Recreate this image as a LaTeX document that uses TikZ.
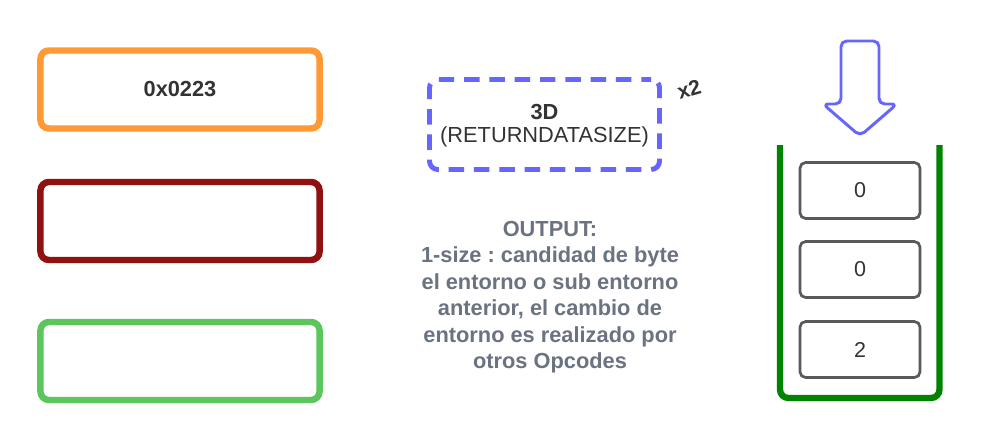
\documentclass[tikz,border=0pt]{standalone}
\usepackage{fontspec}
\setmainfont{Liberation Sans}
\frenchspacing
\definecolor{corange}{RGB}{255,153,51}
\definecolor{cdred}{RGB}{145,17,17}
\definecolor{clgreen}{RGB}{92,198,92}
\definecolor{cblue}{RGB}{102,102,255}
\definecolor{cgreen}{RGB}{0,132,0}
\definecolor{cboxgray}{RGB}{89,89,89}
\definecolor{ctext}{RGB}{51,51,51}
\definecolor{cout}{RGB}{107,114,128}
\tikzset{
  bigbox/.style={draw, rectangle, rounded corners=6pt, line width=4.6pt,
    minimum width=6.975cm, minimum height=1.95cm, inner sep=0pt},
  opbox/.style={draw=cblue, rectangle, rounded corners=6pt, line width=3.5pt,
    dash pattern=on 11pt off 7pt, dash phase=4pt,
    minimum width=5.75cm, minimum height=2.25cm, inner sep=0pt},
  stackbox/.style={draw=cboxgray, rectangle, rounded corners=4pt, line width=1.9pt,
    minimum width=3cm, minimum height=1.4cm, inner sep=0pt,
    font=\fontsize{15.3pt}{18pt}\selectfont, text=ctext},
  lbl/.style={inner sep=0pt, text=ctext, font=\fontsize{15.5pt}{18pt}\selectfont},
}
\begin{document}
\begin{tikzpicture}[x=0.025cm,y=-0.025cm]
\useasboundingbox[fill=white] (0,0) rectangle (1000,440);
% left boxes
\node[bigbox, draw=corange, font=\bfseries\fontsize{15.5pt}{18pt}\selectfont, text=ctext] (b1) at (180,89.5) {0x0223};
\node[bigbox, draw=cdred] (b2) at (180,221) {};
\node[bigbox, draw=clgreen] (b3) at (180,361) {};
% opcode box
\node[opbox] (op) at (544.5,124.5) {};
\node[lbl, font=\bfseries\fontsize{15.5pt}{18pt}\selectfont] (opn) at (544.5,112) {3D};
\node[lbl] (opname) at (544.5,137) {(RETURNDATASIZE)};
\node[lbl, font=\bfseries\fontsize{15pt}{18pt}\selectfont, rotate=16] (x2) at (689,89) {x2};
% output text
\node[inner sep=0pt, align=center, text=cout, font=\bfseries\fontsize{15.5pt}{18.8pt}\selectfont] (out) at (550,297)
  {OUTPUT:\\1-size : candidad de byte\\el entorno o sub entorno\\anterior, el cambio de\\entorno es realizado por\\otros Opcodes};
% push arrow
\coordinate (a1) at (841,41);
\coordinate (a2) at (879,41);
\coordinate (a3) at (879,104);
\coordinate (a4) at (897,104);
\coordinate (a5) at (860,136);
\coordinate (a6) at (823,104);
\coordinate (a7) at (841,104);
\draw[cblue, line width=2.1pt, line join=round, rounded corners=4pt]
  (a1) -- (a2) -- (a3) -- (a4) -- (a5) -- (a6) -- (a7) -- cycle;
% stack container
\coordinate (s1) at (780,145);
\coordinate (s2) at (780,398);
\coordinate (s3) at (939.5,398);
\coordinate (s4) at (939.5,145);
\draw[cgreen, line width=4.5pt, rounded corners=6pt] (s1) -- (s2) -- (s3) -- (s4);
% stack items
\node[stackbox] (k1) at (860,190.5) {0};
\node[stackbox] (k2) at (860,269.5) {0};
\node[stackbox] (k3) at (860,349.5) {2};
\end{tikzpicture}
\end{document}
